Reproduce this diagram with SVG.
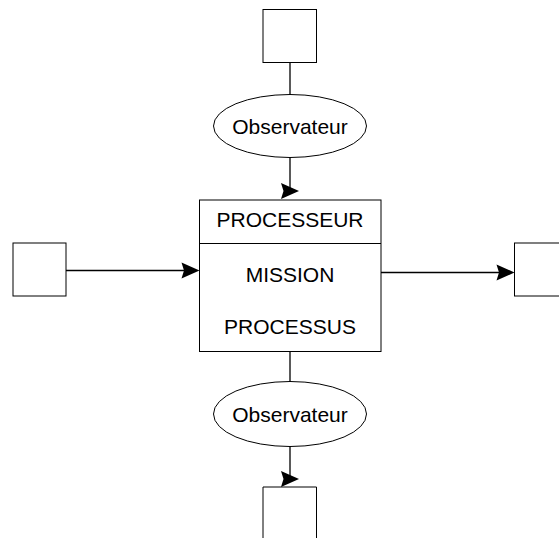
<svg xmlns="http://www.w3.org/2000/svg" width="559" height="538" viewBox="0 0 559 538">
  <style>
    .box { fill: #ffffff; stroke: #000000; stroke-width: 1; }
    .wire { fill: none; stroke: #000000; stroke-width: 1.3; }
    .lbl { font-family: "Liberation Sans", Arial, sans-serif; font-size: 21px; fill: #000000; text-anchor: middle; }
    .head { fill: #000000; stroke: none; }
  </style>
  <defs>
    <!-- arrowhead, tip at origin, pointing right -->
    <path id="ah" class="head" d="M0,0 L-18,-8 L-15.5,0 L-18,8 Z"/>
  </defs>

  <g id="connectors">
    <line class="wire" x1="290" y1="62.5" x2="290" y2="94.5"/>
    <line class="wire" x1="290" y1="157.5" x2="290" y2="191"/>
    <use href="#ah" transform="translate(299,191)"/>

    <line class="wire" x1="66" y1="270.5" x2="190" y2="270.5"/>
    <use href="#ah" transform="translate(199.5,270.5)"/>

    <line class="wire" x1="381" y1="272.5" x2="505" y2="272.5"/>
    <use href="#ah" transform="translate(514.5,272.5)"/>

    <line class="wire" x1="290" y1="351.5" x2="290" y2="381.5"/>
    <line class="wire" x1="290" y1="446.5" x2="290" y2="479"/>
    <use href="#ah" transform="translate(299,479)"/>
  </g>

  <g id="top-box">
    <rect class="box" x="263" y="9.5" width="53.5" height="53"/>
  </g>

  <g id="top-observer">
    <ellipse class="box" cx="290" cy="126" rx="76.5" ry="31.5"/>
    <text class="lbl" x="290" y="133.5">Observateur</text>
  </g>

  <g id="processor">
    <rect class="box" x="199.5" y="200" width="181.5" height="151.5"/>
    <line class="box" x1="199.5" y1="243.5" x2="381" y2="243.5"/>
    <text class="lbl" x="290" y="226.5">PROCESSEUR</text>
    <text class="lbl" x="290" y="281.5">MISSION</text>
    <text class="lbl" x="290" y="334">PROCESSUS</text>
  </g>

  <g id="left-box">
    <rect class="box" x="13" y="243" width="53" height="53"/>
  </g>

  <g id="right-box">
    <rect class="box" x="514.5" y="243" width="60" height="53"/>
  </g>

  <g id="bottom-observer">
    <ellipse class="box" cx="290" cy="414" rx="76.5" ry="32.5"/>
    <text class="lbl" x="290" y="421.5">Observateur</text>
  </g>

  <g id="bottom-box">
    <path class="box" d="M263,540 L263,487 L316.5,487 L316.5,540"/>
  </g>
</svg>
